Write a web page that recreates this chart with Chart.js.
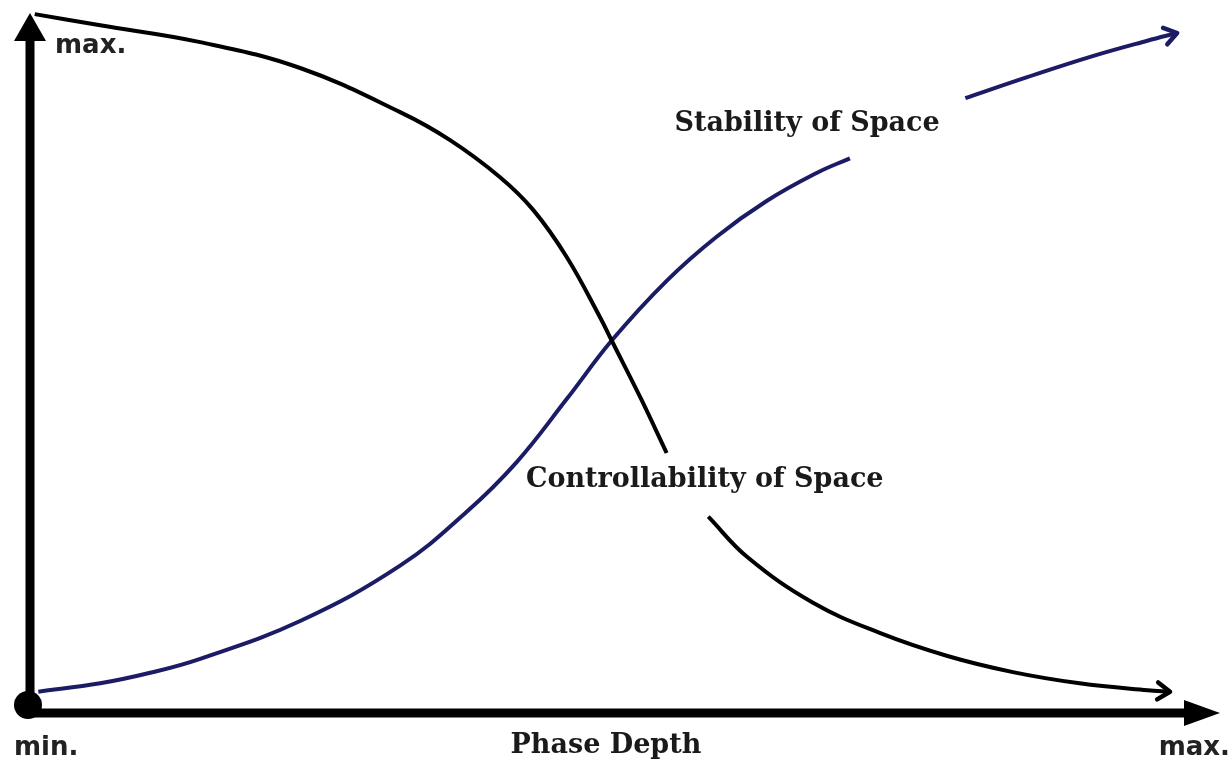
<!DOCTYPE html>
<html>
<head>
<meta charset="utf-8">
<script src="https://cdn.jsdelivr.net/npm/chart.js@4/dist/chart.umd.min.js"></script>
<style>
  body { margin: 0; background: #fff; }
  #wrap { width: 1232px; height: 760px; }
</style>
</head>
<body>
<div id="wrap"><canvas id="mycanvas" width="1232" height="760"></canvas></div>
<script>
// phase depth (x) vs. relative level (y), both on a 0..100 scale
// null = break in the curve where the label sits
var ctrlX = [0.4, 5.9, 14.3, 22.7, 31.1, 35.3, 39.5, 42.3, 45.1, 47.9, 48.9, 51.3, 53.5, 55, 57.0, 60.3, 65.8, 71.4, 77.1, 82.6, 88.2, 93.9, 95.8];
var ctrlY = [99.7, 98.1, 95.7, 92.0, 85.7, 81.7, 76.4, 71.7, 65.0, 56.4, 53.0, 44.9, 37.0, null, 27.9, 22.1, 15.6, 11.3, 8.0, 5.7, 4.1, 3.1, 2.9];

var stabX = [0.7, 5.9, 10.1, 14.3, 22.7, 31.1, 36.7, 40.9, 45.1, 48.9, 53.5, 57.7, 61.9, 66.1, 68.9, 74, 78.6, 83.8, 89.3, 93.9, 96.4];
var stabY = [2.9, 4.1, 5.6, 7.6, 13.0, 20.9, 28.6, 35.7, 44.7, 53.1, 61.6, 67.9, 73.0, 77.0, 79.1, null, 87.7, 90.7, 93.7, 95.9, 97.0];

var seriesNames = ['Controllability of Space', 'Stability of Space'];
var axisTitle = 'Phase Depth';
var axisEnds = ['min.', 'max.'];

function pts(xs, ys) {
	var out = [];
	for (var i in xs) out.push({x: xs[i], y: ys[i]});
	return out;
}

var navy = '#1c1c66';

function arrowHead(ctx, meta, color) {
	var d = meta.data;
	var a = d[d.length - 2], b = d[d.length - 1];
	var ang = Math.atan2(b.y - a.y, b.x - a.x);
	var len = 15, spread = 0.6;
	ctx.save();
	ctx.strokeStyle = color;
	ctx.lineWidth = 4.5;
	ctx.lineCap = 'round';
	ctx.lineJoin = 'round';
	ctx.beginPath();
	ctx.moveTo(b.x - len * Math.cos(ang - spread), b.y - len * Math.sin(ang - spread));
	ctx.lineTo(b.x, b.y);
	ctx.lineTo(b.x - len * Math.cos(ang + spread), b.y - len * Math.sin(ang + spread));
	ctx.stroke();
	ctx.restore();
}

var diagramPlugin = {
	id: 'diagram',
	beforeDatasetsDraw: function(chart) {
		var ctx = chart.ctx;
		var xs = chart.scales.x, ys = chart.scales.y;
		var x0 = xs.getPixelForValue(0), y0 = ys.getPixelForValue(0);
		var yTop = ys.getPixelForValue(100) + 1;
		var xEnd = xs.getPixelForValue(100);
		ctx.save();
		ctx.fillStyle = '#000';
		ctx.strokeStyle = '#000';
		// y axis
		ctx.lineWidth = 9;
		ctx.beginPath();
		ctx.moveTo(x0, y0 + 4);
		ctx.lineTo(x0, yTop + 20);
		ctx.stroke();
		ctx.beginPath();
		ctx.moveTo(x0, yTop);
		ctx.lineTo(x0 - 16, yTop + 28);
		ctx.lineTo(x0 + 16, yTop + 28);
		ctx.closePath();
		ctx.fill();
		// x axis
		ctx.beginPath();
		ctx.moveTo(x0 - 8, y0 + 1);
		ctx.lineTo(xEnd - 25, y0 + 1);
		ctx.stroke();
		ctx.beginPath();
		ctx.moveTo(xEnd, y0 + 1);
		ctx.lineTo(xEnd - 36, y0 - 12);
		ctx.lineTo(xEnd - 36, y0 + 14);
		ctx.closePath();
		ctx.fill();
		ctx.restore();
	},
	afterDatasetsDraw: function(chart) {
		var ctx = chart.ctx;
		var xs = chart.scales.x, ys = chart.scales.y;
		var x0 = xs.getPixelForValue(0), y0 = ys.getPixelForValue(0);
		arrowHead(ctx, chart.getDatasetMeta(0), '#000');
		arrowHead(ctx, chart.getDatasetMeta(1), navy);

		ctx.save();
		// origin dot
		ctx.fillStyle = '#000';
		ctx.beginPath();
		ctx.arc(x0 - 2, y0 - 7, 14, 0, Math.PI * 2);
		ctx.fill();

		// axis end labels
		ctx.fillStyle = '#222';
		ctx.font = 'bold 26px "DejaVu Sans"';
		ctx.textBaseline = 'alphabetic';
		ctx.textAlign = 'left';
		ctx.fillText(axisEnds[1], x0 + 25, ys.getPixelForValue(100) + 41);
		ctx.fillText(axisEnds[0], x0 - 16, y0 + 43);
		ctx.textAlign = 'right';
		ctx.fillText(axisEnds[1], chart.width - 2, y0 + 43);

		// titles
		ctx.fillStyle = '#1a1a1a';
		ctx.font = 'bold 27px "DejaVu Serif"';
		ctx.textAlign = 'center';
		ctx.fillText(axisTitle, xs.getPixelForValue(48.4), y0 + 41);
		ctx.fillText(seriesNames[1], xs.getPixelForValue(65.3), ys.getPixelForValue(83.0));
		ctx.fillText(seriesNames[0], xs.getPixelForValue(56.7), ys.getPixelForValue(32.1));
		ctx.restore();
	}
};

var ctx = document.getElementById('mycanvas');

var chart = new Chart(ctx, {
	type: 'line',
	data: {
		datasets: [{
			label: seriesNames[0],
			data: pts(ctrlX, ctrlY),
			borderColor: '#000',
			borderWidth: 4,
			pointRadius: 0,
			tension: 0.4,
			spanGaps: false,
			clip: false
		}, {
			label: seriesNames[1],
			data: pts(stabX, stabY),
			borderColor: navy,
			borderWidth: 4,
			pointRadius: 0,
			tension: 0.4,
			spanGaps: false,
			clip: false
		}]
	},
	options: {
		responsive: false,
		animation: false,
		layout: {
			padding: {left: 30, right: 12, top: 12, bottom: 48}
		},
		scales: {
			x: {type: 'linear', min: 0, max: 100, display: false},
			y: {type: 'linear', min: 0, max: 100, display: false}
		},
		plugins: {
			legend: {display: false},
			tooltip: {enabled: false}
		}
	},
	plugins: [diagramPlugin]
});
</script>
</body>
</html>
